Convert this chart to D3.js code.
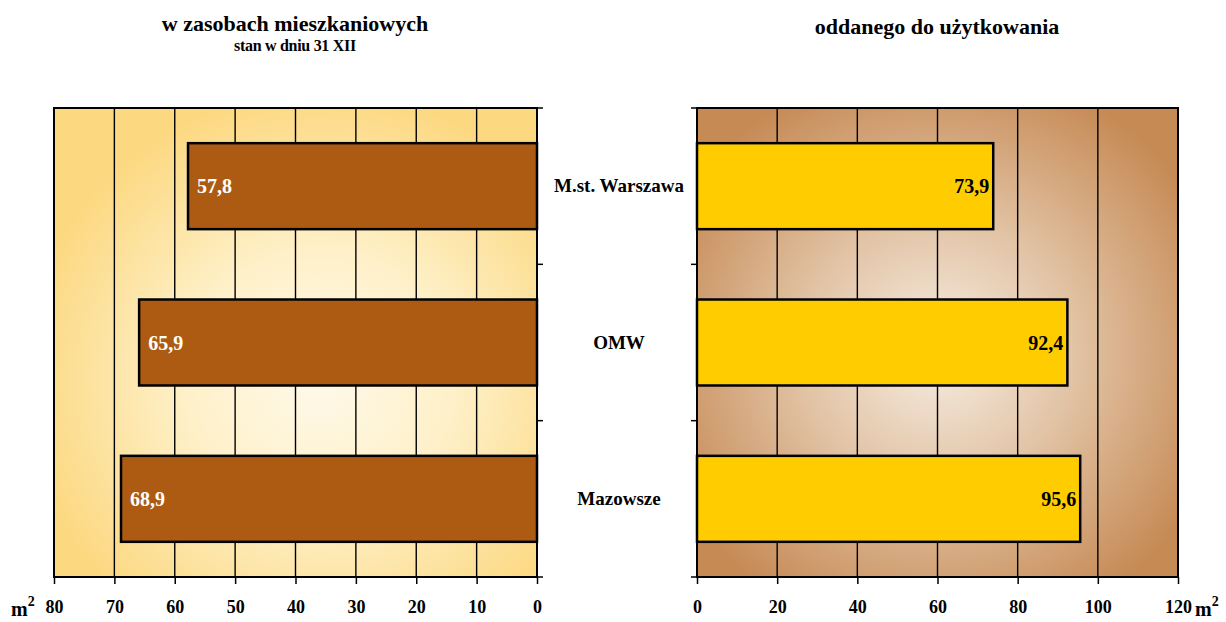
<!DOCTYPE html>
<html><head><meta charset="utf-8">
<script src="https://cdn.jsdelivr.net/npm/d3@7"></script>
<style>body{margin:0;background:#fff}svg{display:block}text{font-family:"Liberation Serif","Times New Roman",serif;font-weight:bold}</style>
</head><body>
<svg id="c" width="1226" height="622"></svg>
<script>
const categories = ["M.st. Warszawa", "OMW", "Mazowsze"];
const leftValues = [57.8, 65.9, 68.9];
const rightValues = [73.9, 92.4, 95.6];
const leftTicks = [80, 70, 60, 50, 40, 30, 20, 10, 0];
const rightTicks = [0, 20, 40, 60, 80, 100, 120];
const leftTitle = "w zasobach mieszkaniowych";
const leftSubtitle = "stan w dniu 31 XII";
const rightTitle = "oddanego do użytkowania";
const fmt = v => String(v).replace(".", ",");

const svg = d3.select("#c");
const yTop = 108, yBottom = 577;
const y = d3.scaleBand().domain(categories).range([yTop, yBottom]).paddingInner(0.45).paddingOuter(0.225);
const xL = d3.scaleLinear().domain([80, 0]).range([54, 537]);
const xR = d3.scaleLinear().domain([0, 120]).range([697, 1178]);

const defs = svg.append("defs");
const gL = defs.append("radialGradient").attr("id", "gL").attr("cx", "0.55").attr("cy", "0.58").attr("r", "0.62");
gL.append("stop").attr("offset", "0").attr("stop-color", "#FFF9EA");
gL.append("stop").attr("offset", "0.45").attr("stop-color", "#FEF0C8");
gL.append("stop").attr("offset", "1").attr("stop-color", "#FCD880");
const gR = defs.append("radialGradient").attr("id", "gR").attr("cx", "0.5").attr("cy", "0.52").attr("r", "0.62");
gR.append("stop").attr("offset", "0").attr("stop-color", "#F7EDE3");
gR.append("stop").attr("offset", "0.45").attr("stop-color", "#E2C4A6");
gR.append("stop").attr("offset", "1").attr("stop-color", "#C68A55");

function panel(x, values, ticks, fill, barFill, labelFill, side) {
  const x0 = Math.min(x.range()[0], x.range()[1]), x1 = Math.max(x.range()[0], x.range()[1]);
  const g = svg.append("g");
  g.append("rect").attr("x", x0).attr("y", yTop).attr("width", x1 - x0).attr("height", yBottom - yTop).attr("fill", fill);
  g.selectAll(".grid").data(ticks).join("line")
    .attr("x1", d => x(d)).attr("x2", d => x(d)).attr("y1", yTop).attr("y2", yBottom)
    .attr("stroke", "#000").attr("stroke-width", 1.4);
  g.append("rect").attr("x", x0).attr("y", yTop).attr("width", x1 - x0).attr("height", yBottom - yTop)
    .attr("fill", "none").attr("stroke", "#000").attr("stroke-width", 2);
  const base = x(0);
  g.selectAll(".bar").data(values).join("rect")
    .attr("x", d => Math.min(x(d), base)).attr("y", (d, i) => y(categories[i]))
    .attr("width", d => Math.abs(x(d) - base)).attr("height", y.bandwidth())
    .attr("fill", barFill).attr("stroke", "#000").attr("stroke-width", 2.5);
  g.selectAll(".lbl").data(values).join("text")
    .attr("x", d => side === "left" ? x(d) + 9 : x(d) - 4)
    .attr("y", (d, i) => y(categories[i]) + y.bandwidth() / 2 + 7)
    .attr("text-anchor", side === "left" ? "start" : "end")
    .attr("font-size", 20).attr("fill", labelFill).text(fmt);
  const ax = g.append("g").attr("transform", `translate(0,${yBottom})`)
    .call(d3.axisBottom(x).tickValues(ticks).tickSize(7).tickPadding(16).tickFormat(d => d));
  ax.select(".domain").attr("stroke-width", 2).attr("d", `M${x0},0H${x1}`);
  ax.selectAll(".tick line").attr("stroke-width", 1.5);
  ax.selectAll(".tick text").attr("font-size", 18).attr("font-family", "Liberation Serif").attr("font-weight", "bold").attr("fill", "#000");
  const bounds = [yTop, ...categories.slice(1).map(c => y(c) - y.step() * y.paddingInner() / 2), yBottom];
  const edgeX = side === "left" ? x1 : x0;
  const dir = side === "left" ? 1 : -1;
  g.selectAll(".ct").data(bounds).join("line")
    .attr("x1", edgeX).attr("x2", edgeX + dir * 6).attr("y1", d => d).attr("y2", d => d)
    .attr("stroke", "#000").attr("stroke-width", 1.5);
}

panel(xL, leftValues, leftTicks, "url(#gL)", "#AD5B13", "#fff", "left");
panel(xR, rightValues, rightTicks, "url(#gR)", "#FFCC00", "#000", "right");

svg.selectAll(".cat").data(categories).join("text")
  .attr("x", 619).attr("y", d => y(d) + y.bandwidth() / 2 + 6)
  .attr("text-anchor", "middle").attr("font-size", 19).text(d => d);

svg.append("text").attr("x", 295).attr("y", 31).attr("text-anchor", "middle").attr("font-size", 22).text(leftTitle);
svg.append("text").attr("x", 295).attr("y", 51).attr("text-anchor", "middle").attr("font-size", 16).attr("letter-spacing", -0.3).text(leftSubtitle);
svg.append("text").attr("x", 937).attr("y", 34).attr("text-anchor", "middle").attr("font-size", 22).text(rightTitle);

function unit(xp) {
  const t = svg.append("text").attr("x", xp).attr("y", 616).attr("font-size", 20);
  t.append("tspan").text("m");
  t.append("tspan").attr("dy", -10).attr("font-size", 14).text("2");
}
unit(11);
unit(1195);
</script>
</body></html>
